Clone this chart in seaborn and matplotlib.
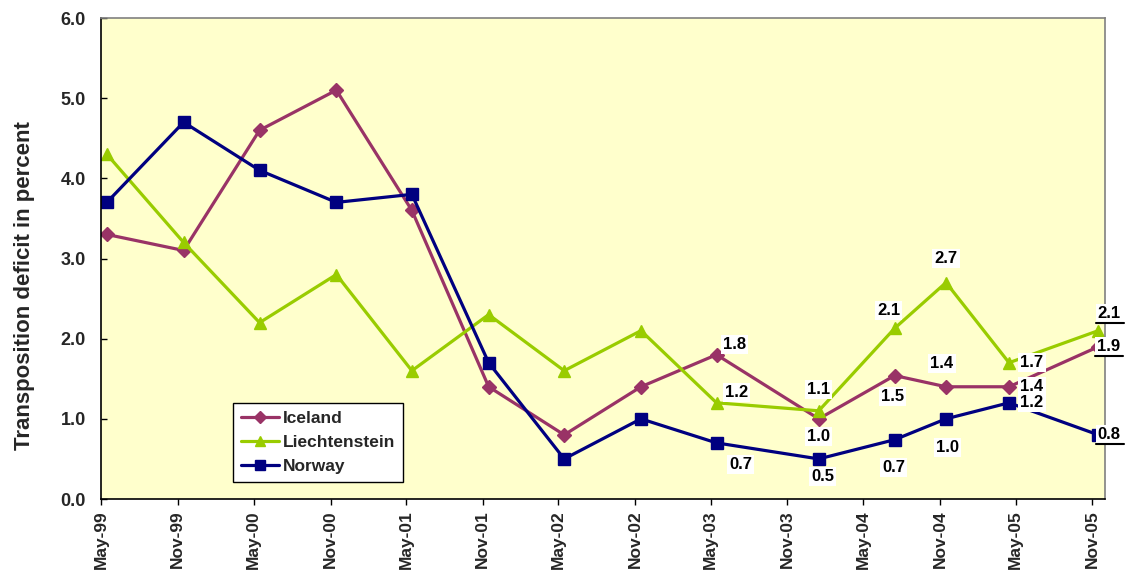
import matplotlib
matplotlib.use("Agg")
import matplotlib.pyplot as plt
import matplotlib.dates as mdates
from matplotlib.lines import Line2D
from matplotlib.transforms import IdentityTransform
import pandas as pd
import seaborn as sns

# Survey dates (mid-month) and transposition deficits in percent
dates = ["1999-05-15", "1999-11-15", "2000-05-15", "2000-11-15", "2001-05-15",
         "2001-11-15", "2002-05-15", "2002-11-15", "2003-05-15", "2004-01-15",
         "2004-07-15", "2004-11-15", "2005-04-15", "2005-11-15"]
iceland = [3.3, 3.1, 4.6, 5.1, 3.6, 1.4, 0.8, 1.4, 1.8, 1.0, 1.54, 1.4, 1.4, 1.9]
liechtenstein = [4.3, 3.2, 2.2, 2.8, 1.6, 2.3, 1.6, 2.1, 1.2, 1.1, 2.13, 2.7, 1.7, 2.1]
norway = [3.7, 4.7, 4.1, 3.7, 3.8, 1.7, 0.5, 1.0, 0.7, 0.5, 0.74, 1.0, 1.2, 0.8]
countries = ["Iceland", "Liechtenstein", "Norway"]
y_ticks = [0.0, 1.0, 2.0, 3.0, 4.0, 5.0, 6.0]
first_labelled = 8

colors = {"Iceland": "#993366", "Liechtenstein": "#99CC00", "Norway": "#000080"}
markers = {"Iceland": "D", "Liechtenstein": "^", "Norway": "s"}
msizes = {"Iceland": 7, "Liechtenstein": 8, "Norway": 8}

# Label offsets from each point, in pixels (dx right, dy down)
label_offsets = {
    "Iceland":       [(18, -10), (0, 18), (-2, 21), (-4, -23), (23, 0), (10, 0)],
    "Liechtenstein": [(20, -10), (0, -21), (-6, -18), (0, -24), (23, 0), (11, -17)],
    "Norway":        [(24, 22), (4, 18), (-1, 28), (1, 29), (23, 0), (11, 0)],
}

series = {"Iceland": iceland, "Liechtenstein": liechtenstein, "Norway": norway}
df = pd.DataFrame({
    "date": pd.to_datetime(dates * 3),
    "value": iceland + liechtenstein + norway,
    "country": sum([[c] * len(dates) for c in countries], []),
})

sns.set_style("white")
plt.rcParams["font.family"] = ["Liberation Sans", "DejaVu Sans"]
plt.rcParams["font.weight"] = "bold"

fig = plt.figure(figsize=(11.25, 5.77), dpi=100)
ax = fig.add_axes([101 / 1125, 1 - 499 / 577, (1105 - 101) / 1125, (499 - 18) / 577])
ax.set_facecolor("#FFFFCC")

sns.lineplot(data=df, x="date", y="value", hue="country", style="country",
             hue_order=countries, style_order=countries, palette=colors,
             markers=markers, dashes=False, linewidth=2.3, ax=ax, legend=False)

for line, c in zip(ax.lines, countries):
    line.set_markeredgecolor(colors[c])
    line.set_markerfacecolor(colors[c])
    line.set_markersize(msizes[c])
    line.set_markeredgewidth(1)

ax.set_xlim(pd.Timestamp("1999-05-01"), pd.Timestamp("2005-12-01"))
ax.set_ylim(0, 6)
ax.set_yticks(y_ticks)
ax.set_yticklabels([f"{t:.1f}" for t in y_ticks], fontsize=13, fontweight="bold")
ax.xaxis.set_major_locator(mdates.MonthLocator(bymonth=[5, 11]))
ax.xaxis.set_major_formatter(mdates.DateFormatter("%b-%y"))
plt.setp(ax.get_xticklabels(), rotation=90, fontsize=12.5, fontweight="bold")
ax.tick_params(axis="y", which="major", direction="in", length=4.5, width=1,
               color="black", left=True, pad=11)
ax.tick_params(axis="x", which="major", direction="out", length=4, width=1,
               color="black", bottom=True, pad=4)
ax.set_xlabel("")
ax.set_ylabel("Transposition deficit in percent", fontsize=16, fontweight="bold")
ax.yaxis.set_label_coords(-0.066, 0.443)

for side in ["left", "bottom"]:
    ax.spines[side].set_color("black")
    ax.spines[side].set_linewidth(1.2)
for side in ["top", "right"]:
    ax.spines[side].set_color("#808080")
    ax.spines[side].set_linewidth(1.2)

# Value labels for the later survey points
underlined = []
for c in countries:
    vals = series[c]
    for k, i in enumerate(range(first_labelled, len(dates))):
        dx, dy = label_offsets[c][k]
        ann = ax.annotate(f"{vals[i]:.1f}", xy=(pd.Timestamp(dates[i]), vals[i]),
                          xytext=(dx * 0.72, -dy * 0.72), textcoords="offset points",
                          ha="center", va="center", fontsize=12, fontweight="bold",
                          color="black", zorder=5, annotation_clip=False,
                          bbox=dict(boxstyle="square,pad=0.12", fc="white", ec="none"))
        if i == len(dates) - 1:
            underlined.append(ann)

leg_handles = [Line2D([], [], color=colors[c], marker=markers[c], markersize=msizes[c] - 1,
                      linewidth=2.3, markeredgecolor=colors[c]) for c in countries]
leg = ax.legend(leg_handles, countries, loc="lower left", bbox_to_anchor=(0.1315, 0.036),
                borderaxespad=0, frameon=True, fancybox=False, framealpha=1,
                edgecolor="black", prop={"size": 12.5, "weight": "bold"},
                handlelength=2.2, handletextpad=0.2, labelspacing=0.5,
                borderpad=0.45)
leg.get_frame().set_linewidth(1.0)

# Underline the end-of-series labels
fig.canvas.draw()
renderer = fig.canvas.get_renderer()
for ann in underlined:
    bb = ann.get_bbox_patch().get_window_extent(renderer)
    fig.add_artist(Line2D([bb.x0, bb.x1 + 1], [bb.y0, bb.y0], transform=IdentityTransform(),
                          color="black", linewidth=1.5))

fig.savefig("out.png", dpi=100, facecolor="white")
